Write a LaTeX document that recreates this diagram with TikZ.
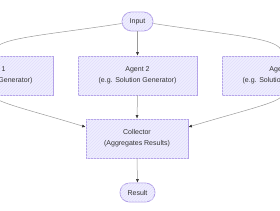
\documentclass[tikz,border=0pt]{standalone}
\usepackage{fontspec}
\setmainfont{Liberation Sans}
\usetikzlibrary{arrows.meta,patterns}

\providecommand{\colorBoxFill}{boxfill}
\providecommand{\colorBoxBorder}{boxborder}
\providecommand{\colorEdge}{edgegrey}
\providecommand{\edgethickness}{0.5pt}
\providecommand{\borderthickness}{0.8pt}
\definecolor{boxfill}{HTML}{EFEEFF}
\definecolor{boxborder}{HTML}{B3A1E8}
\definecolor{hatch}{HTML}{E2DFFB}
\definecolor{edgegrey}{HTML}{9A9A9A}
\definecolor{textgrey}{HTML}{333333}

\begin{document}
\begin{tikzpicture}[
    x=1pt, y=-1pt,
    % Node styles
    box_base/.style={
        draw=\colorBoxBorder,
        line width=\borderthickness,
        fill=\colorBoxFill,
        postaction={pattern=north east lines, pattern color=hatch},
        text=textgrey,
        font=\fontsize{7}{11}\selectfont,
        align=center,
        inner sep=0pt
    },
    agent_box/.style={box_base, rectangle, minimum width=119pt, minimum height=39pt},
    collect_box/.style={box_base, rectangle, minimum width=102pt, minimum height=39pt},
    terminal/.style={box_base, rectangle, rounded corners=9.5pt, minimum height=19pt},
    % Edge styles
    flow_edge/.style={
        line width=\edgethickness,
        draw=\colorEdge,
        -{Latex[length=3.5pt,width=3pt,color=textgrey]}
    }
]
    \useasboundingbox (0,0) rectangle (280,210);
    \clip (0,0) rectangle (280,210);

    % ==================== NODES ====================
    \node[terminal, minimum width=31pt] (input) at (137.5, 21.5) {Input};

    \node[agent_box] (agent1) at (-6.5, 75.5) {Agent 1\\(e.g. Solution Generator)};
    \node[agent_box] (agent2) at (137.5, 75.5) {Agent 2\\(e.g. Solution Generator)};
    \node[agent_box] (agent3) at (281.5, 75.5) {Agent 3\\(e.g. Solution Generator)};

    \node[collect_box] (collector) at (137, 138.5) {Collector\\(Aggregates Results)};

    \node[terminal, minimum width=35pt] (result) at (137.5, 192.5) {Result};

    % ==================== EDGES ====================
    % Input fans out to the agents
    \draw[flow_edge] ([yshift=-2pt]input.west) .. controls (40, 36) and (-6.5, 38) .. (agent1.north);
    \draw[flow_edge] (input.south) -- (agent2.north);
    \draw[flow_edge] ([yshift=-2pt]input.east) .. controls (235, 36) and (281.5, 38) .. (agent3.north);

    % Agents feed the collector
    \draw[flow_edge] (agent1.south) .. controls (-6.5, 102) and (30, 110) .. ([yshift=11.5pt]collector.west);
    \draw[flow_edge] (agent2.south) -- (collector.north);
    \draw[flow_edge] (agent3.south) .. controls (281.5, 102) and (245, 110) .. ([yshift=11.5pt]collector.east);

    % Collector to result
    \draw[flow_edge] (collector.south) -- (result.north);

\end{tikzpicture}
\end{document}
